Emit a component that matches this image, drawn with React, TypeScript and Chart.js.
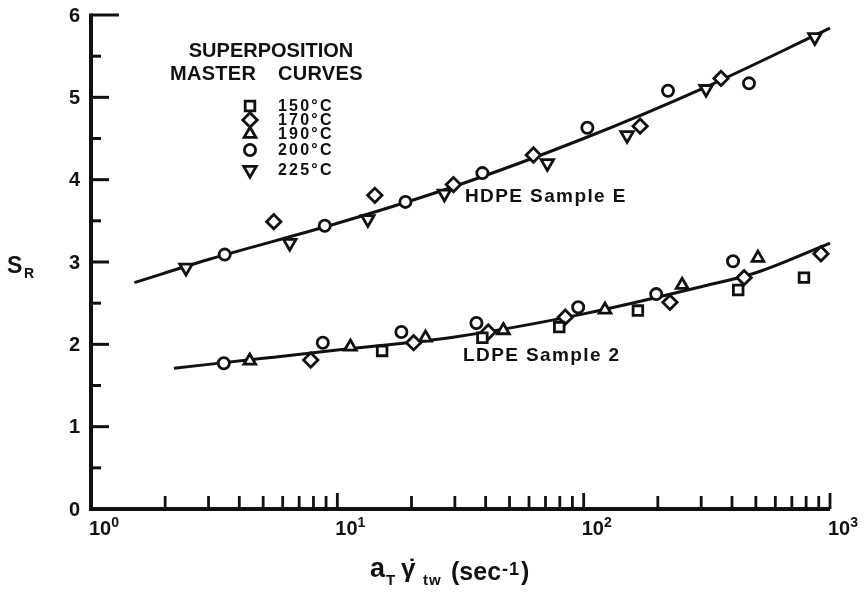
import React, { useEffect, useRef } from "react";
import { Chart, registerables } from "chart.js";
import { drawPoint } from "chart.js/helpers";

Chart.register(...registerables);

// ---------- data ----------
const tempLabels = ["150°C", "170°C", "190°C", "200°C", "225°C"];

const x150 = [15.2, 38.8, 79.6, 166, 424, 784];
const y150 = [1.92, 2.08, 2.21, 2.41, 2.66, 2.81];

const x170 = [5.52, 14.2, 29.6, 62.5, 169.5, 361, 7.8, 20.4, 41.0, 84.2, 224, 448, 919];
const y170 = [3.49, 3.81, 3.94, 4.3, 4.65, 5.23, 1.81, 2.02, 2.15, 2.33, 2.51, 2.81, 3.1];

const x190 = [4.41, 11.3, 22.8, 47.2, 122, 251, 510];
const y190 = [1.8, 1.97, 2.08, 2.17, 2.42, 2.72, 3.05];

const x200 = [3.49, 8.89, 18.9, 38.8, 103.5, 220, 469, 3.46, 8.73, 18.2, 36.7, 95, 197, 404];
const y200 = [3.09, 3.44, 3.73, 4.08, 4.63, 5.08, 5.17, 1.77, 2.02, 2.15, 2.26, 2.45, 2.61, 3.01];

const x225 = [2.43, 6.41, 13.3, 27.2, 71.2, 150, 314, 868];
const y225 = [2.93, 3.23, 3.52, 3.83, 4.2, 4.54, 5.1, 5.73];

// master curves
const hdpeCurveX = [1.5, 3, 10, 30, 100, 300, 1000];
const hdpeCurveY = [2.75, 3.03, 3.47, 3.92, 4.5, 5.1, 5.84];
const ldpeCurveX = [2.17, 5, 10, 30, 100, 300, 500, 1000];
const ldpeCurveY = [1.71, 1.83, 1.93, 2.09, 2.37, 2.7, 2.87, 3.23];

const curveLabels = ["HDPE Sample E", "LDPE Sample 2"];

const yTickValues = [0, 1, 2, 3, 4, 5, 6];
const xDecades = [1, 10, 100, 1000];
const xExponents = ["0", "1", "2", "3"];

// ---------- styling ----------
const INK = "#111";
const FONT = "'Liberation Sans', Arial, sans-serif";
const markerStyles: any[] = [
  { pointStyle: "rect", rotation: 0, radius: 6.8 },
  { pointStyle: "rectRot", rotation: 0, radius: 7.2 },
  { pointStyle: "triangle", rotation: 0, radius: 6.8 },
  { pointStyle: "circle", rotation: 0, radius: 5.6 },
  { pointStyle: "triangle", rotation: 180, radius: 7.2 },
];
const MARK_BW = 2.8;

const pts = (xs: number[], ys: number[]) => xs.map((x, i) => ({ x, y: ys[i] }));

function txt(
  ctx: CanvasRenderingContext2D,
  s: string,
  x: number,
  y: number,
  size: number,
  align: CanvasTextAlign = "left",
  baseline: CanvasTextBaseline = "alphabetic",
  spacing = 0,
  family = FONT
) {
  ctx.font = `bold ${size}px ${family}`;
  (ctx as any).letterSpacing = spacing + "px";
  ctx.textAlign = align;
  ctx.textBaseline = baseline;
  ctx.fillStyle = INK;
  ctx.fillText(s, x, y);
  (ctx as any).letterSpacing = "0px";
}

const decorPlugin = {
  id: "decor",
  beforeDraw(chart: any) {
    const ctx = chart.ctx as CanvasRenderingContext2D;
    ctx.save();
    ctx.fillStyle = "#fff";
    ctx.fillRect(0, 0, chart.width, chart.height);
    ctx.restore();
  },
  afterDraw(chart: any) {
    const ctx = chart.ctx as CanvasRenderingContext2D;
    const xs = chart.scales.x;
    const ys = chart.scales.y;
    const x0 = xs.getPixelForValue(1);
    const x1 = xs.getPixelForValue(1000);
    const yb = ys.getPixelForValue(0);
    const yt = ys.getPixelForValue(6);
    ctx.save();
    ctx.strokeStyle = INK;
    ctx.lineCap = "butt";

    // axis lines
    ctx.lineWidth = 4;
    ctx.beginPath();
    ctx.moveTo(x0, yt - 1.5);
    ctx.lineTo(x0, yb);
    ctx.lineTo(x1, yb);
    ctx.stroke();

    // y ticks (inward, to the right)
    ctx.lineWidth = 3;
    for (let v = 0.5; v <= 6.001; v += 0.5) {
      const y = ys.getPixelForValue(v);
      const isInt = Math.abs(v - Math.round(v)) < 1e-6;
      const len = v > 5.9 ? 28 : isInt ? 18 : 10;
      ctx.beginPath();
      ctx.moveTo(x0, y);
      ctx.lineTo(x0 + len, y);
      ctx.stroke();
    }
    // x ticks (inward, upward)
    ctx.lineWidth = 2.8;
    for (let d = 0; d < 3; d++) {
      for (let m = 2; m <= 10; m++) {
        const v = m * xDecades[d];
        const x = xs.getPixelForValue(v);
        const len = m === 10 ? 16 : 13;
        ctx.beginPath();
        ctx.moveTo(x, yb);
        ctx.lineTo(x, yb - len);
        ctx.stroke();
      }
    }

    // y tick labels
    yTickValues.forEach((v) => {
      txt(ctx, String(v), 80, ys.getPixelForValue(v) + 1, 20, "right", "middle");
    });
    // x tick labels 10^n
    xDecades.forEach((v, i) => {
      const x = xs.getPixelForValue(v) - 2;
      txt(ctx, "10", x, 535, 20, "left", "alphabetic");
      ctx.font = `bold 20px ${FONT}`;
      const w = ctx.measureText("10").width;
      txt(ctx, xExponents[i], x + w, 527, 14, "left", "alphabetic");
    });

    // y axis title S_R
    txt(ctx, "S", 7, 273, 23);
    txt(ctx, "R", 24, 278, 14);

    // x axis title  a_T γ̇_tw (sec-1)
    txt(ctx, "a", 370, 577, 27);
    txt(ctx, "T", 386, 585, 15);
    txt(ctx, "γ", 401, 577, 26);
    txt(ctx, "˙", 408, 576, 24);
    txt(ctx, "tw", 423, 585, 15, "left", "alphabetic", 1);
    txt(ctx, "(sec", 451, 580, 25);
    ctx.font = `bold 25px ${FONT}`;
    const wsec = ctx.measureText("(sec").width;
    txt(ctx, "-1", 451 + wsec + 1, 575, 18, "left", "alphabetic", 1);
    ctx.font = `bold 18px ${FONT}`;
    const wm1 = ctx.measureText("-1").width + 2;
    txt(ctx, ")", 451 + wsec + wm1 + 2, 580, 25);

    // legend
    txt(ctx, "SUPERPOSITION", 271, 57, 20, "center");
    txt(ctx, "MASTER", 170, 80, 20, "left", "alphabetic", 0.3);
    txt(ctx, "CURVES", 278, 80, 20, "left", "alphabetic", 0.3);
    const rowY = [106, 120, 134, 150, 170];
    tempLabels.forEach((lab, i) => {
      ctx.fillStyle = "#fff";
      ctx.strokeStyle = INK;
      ctx.lineWidth = MARK_BW;
      drawPoint(ctx, { ...markerStyles[i], borderWidth: MARK_BW }, 250, rowY[i]);
      txt(ctx, lab, 278, rowY[i] + 1, 16, "left", "middle", 2.2);
    });

    // curve labels
    txt(ctx, curveLabels[0], 465, 197, 19, "left", "middle", 1.4);
    txt(ctx, curveLabels[1], 463, 356, 19, "left", "middle", 1.4);

    ctx.restore();
  },
};

export default function App() {
  const ref = useRef<HTMLCanvasElement>(null);
  useEffect(() => {
    document.body.style.margin = "0";
    const seriesX = [x150, x170, x190, x200, x225];
    const seriesY = [y150, y170, y190, y200, y225];
    const pointSets = tempLabels.map((lab, i) => ({
      type: "scatter" as const,
      label: lab,
      data: pts(seriesX[i], seriesY[i]),
      pointStyle: markerStyles[i].pointStyle,
      rotation: markerStyles[i].rotation,
      pointRadius: markerStyles[i].radius,
      pointBorderWidth: MARK_BW,
      pointBorderColor: INK,
      pointBackgroundColor: "#fff",
      showLine: false,
      order: 0,
      clip: false as any,
    }));
    const curveSets = [
      { label: curveLabels[0], data: pts(hdpeCurveX, hdpeCurveY) },
      { label: curveLabels[1], data: pts(ldpeCurveX, ldpeCurveY) },
    ].map((c) => ({
      type: "line" as const,
      label: c.label,
      data: c.data,
      borderColor: INK,
      borderWidth: 3,
      pointRadius: 0,
      fill: false,
      cubicInterpolationMode: "monotone" as const,
      order: 10,
      clip: false as any,
    }));
    const chart = new Chart(ref.current!, {
      type: "scatter",
      data: { datasets: [...pointSets, ...curveSets] as any },
      plugins: [decorPlugin],
      options: {
        animation: false,
        responsive: false,
        devicePixelRatio: 1,
        layout: { padding: { left: 91, right: 34, top: 15, bottom: 85 } },
        plugins: { legend: { display: false }, tooltip: { enabled: false } },
        scales: {
          x: { type: "logarithmic", min: 1, max: 1000, display: false },
          y: { type: "linear", min: 0, max: 6, display: false },
        },
      },
    });
    return () => chart.destroy();
  }, []);
  return (
    <div style={{ width: 864, height: 594, background: "#fff" }}>
      <canvas ref={ref} width={864} height={594} style={{ display: "block" }} />
    </div>
  );
}
